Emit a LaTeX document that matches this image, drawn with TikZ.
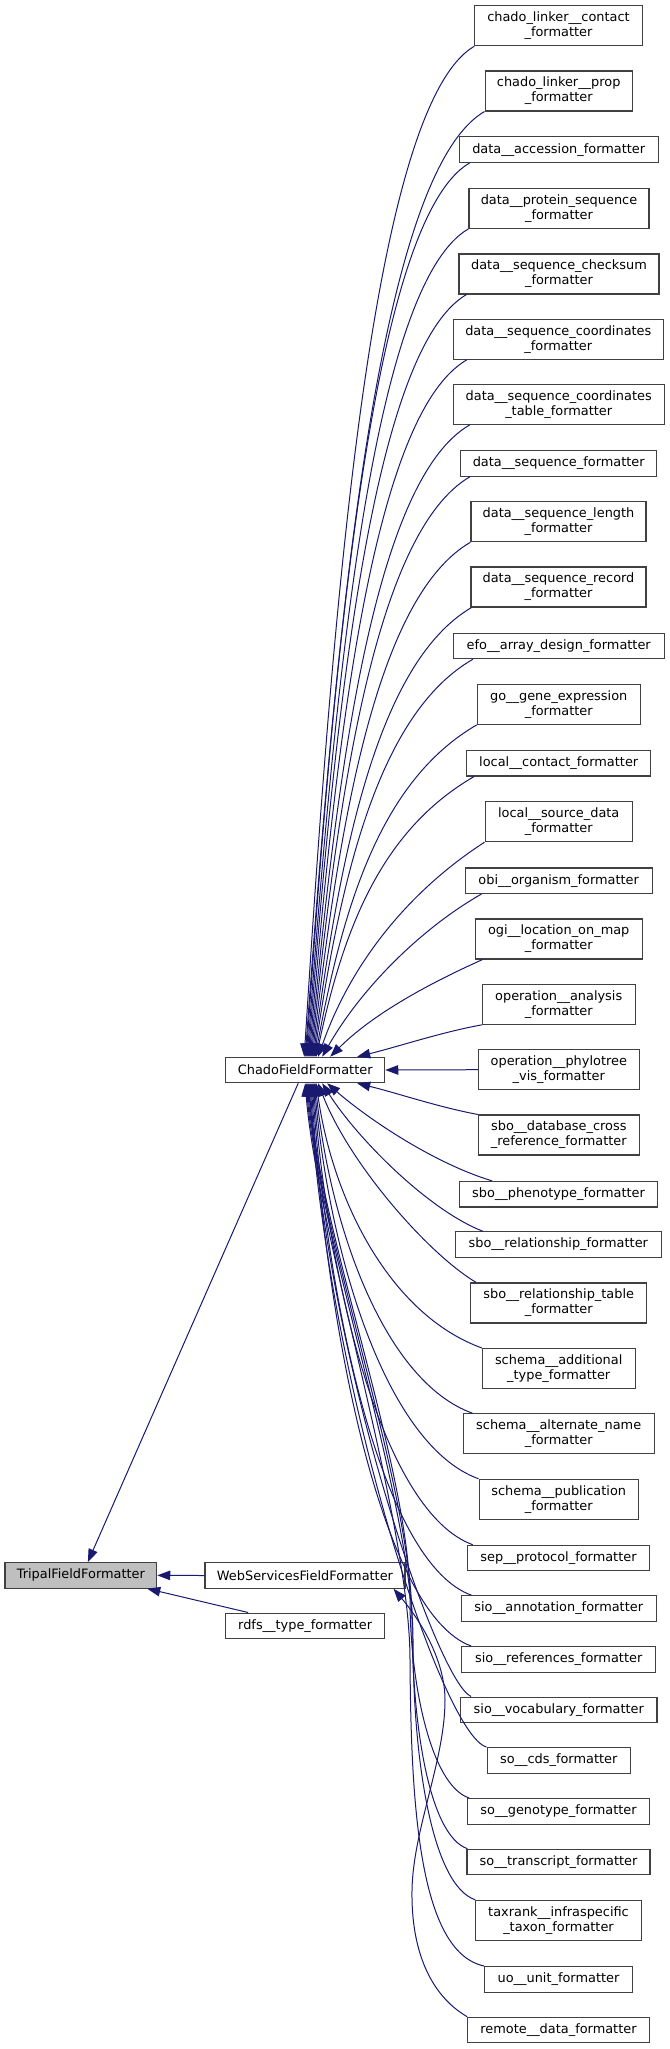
\documentclass[tikz,border=0pt]{standalone}
\usepackage{fontspec}
\setmainfont{DejaVu Sans}
\usetikzlibrary{arrows.meta}
\definecolor{edgecol}{HTML}{191970}
\definecolor{boxborder}{HTML}{404040}
\definecolor{basefill}{HTML}{BFBFBF}
\tikzset{
 box/.style={draw=boxborder, line width=1.1pt, fill=white, inner sep=0pt, align=center,
   font=\fontsize{12.9}{15}\selectfont, minimum height=25.5},
 tall/.style={box, minimum height=40},
 edge/.style={draw=edgecol, line width=1pt, -{Triangle[length=13pt,width=9.5pt]}},
}
\begin{document}
\begin{tikzpicture}[x=1pt,y=-1pt]
\fill[white] (0,0) rectangle (669,2049);
\useasboundingbox (0,0) rectangle (669,2049);

\node[tall, minimum width=167.3] (n1) at (558.5,25.7) {chado\_linker\_\_contact\\\_formatter};
\node[tall, minimum width=147.3] (n2) at (558.7,91) {chado\_linker\_\_prop\\\_formatter};
\node[box, minimum width=199.3] (n3) at (558.7,149.7) {data\_\_accession\_formatter};
\node[tall, minimum width=180] (n4) at (559,208.3) {data\_\_protein\_sequence\\\_formatter};
\node[tall, minimum width=200] (n5) at (559,274) {data\_\_sequence\_checksum\\\_formatter};
\node[tall, minimum width=210] (n6) at (558.3,339.3) {data\_\_sequence\_coordinates\\\_formatter};
\node[tall, minimum width=210.7] (n7) at (558.7,404.3) {data\_\_sequence\_coordinates\\\_table\_formatter};
\node[box, minimum width=196] (n8) at (558.7,463.3) {data\_\_sequence\_formatter};
\node[tall, minimum width=175] (n9) at (558.5,521.7) {data\_\_sequence\_length\\\_formatter};
\node[tall, minimum width=175] (n10) at (558.5,587) {data\_\_sequence\_record\\\_formatter};
\node[box, minimum width=210.7] (n11) at (558.7,646) {efo\_\_array\_design\_formatter};
\node[tall, minimum width=162.7] (n12) at (558.7,704.3) {go\_\_gene\_expression\\\_formatter};
\node[box, minimum width=184] (n13) at (558.7,763.2) {local\_\_contact\_formatter};
\node[tall, minimum width=147.3] (n14) at (558.7,821.7) {local\_\_source\_data\\\_formatter};
\node[box, minimum width=187.3] (n15) at (558.7,880.7) {obi\_\_organism\_formatter};
\node[tall, minimum width=167.3] (n16) at (558.7,939) {ogi\_\_location\_on\_map\\\_formatter};
\node[tall, minimum width=152.7] (n17) at (558.7,1004.3) {operation\_\_analysis\\\_formatter};
\node[tall, minimum width=161] (n18) at (558.8,1069.7) {operation\_\_phylotree\\\_vis\_formatter};
\node[tall, minimum width=161] (n19) at (558.8,1135) {sbo\_\_database\_cross\\\_reference\_formatter};
\node[box, minimum width=197.6] (n20) at (558.5,1194.2) {sbo\_\_phenotype\_formatter};
\node[box, minimum width=205.5] (n21) at (558.3,1244.6) {sbo\_\_relationship\_formatter};
\node[tall, minimum width=176] (n22) at (558.7,1303) {sbo\_\_relationship\_table\\\_formatter};
\node[tall, minimum width=152.7] (n23) at (558.7,1368.5) {schema\_\_additional\\\_type\_formatter};
\node[tall, minimum width=191.3] (n24) at (558.7,1433.8) {schema\_\_alternate\_name\\\_formatter};
\node[tall, minimum width=159.3] (n25) at (558.7,1499.3) {schema\_\_publication\\\_formatter};
\node[box, minimum width=182.4] (n26) at (558.5,1558) {sep\_\_protocol\_formatter};
\node[box, minimum width=195.3] (n27) at (558.7,1608.5) {sio\_\_annotation\_formatter};
\node[box, minimum width=194] (n28) at (558.7,1659.3) {sio\_\_references\_formatter};
\node[box, minimum width=196.3] (n29) at (558.8,1709.8) {sio\_\_vocabulary\_formatter};
\node[box, minimum width=143.3] (n30) at (558.7,1760.3) {so\_\_cds\_formatter};
\node[box, minimum width=181.6] (n31) at (558.5,1811.3) {so\_\_genotype\_formatter};
\node[box, minimum width=183] (n32) at (558.5,1862) {so\_\_transcript\_formatter};
\node[tall, minimum width=165.6] (n33) at (558.5,1920.3) {taxrank\_\_infraspecific\\\_taxon\_formatter};
\node[box, minimum width=147.6] (n34) at (558.5,1979.3) {uo\_\_unit\_formatter};
\node[box, minimum width=181.6] (n35) at (558.5,2030) {remote\_\_data\_formatter};

\node[box, minimum width=159] (chado) at (305.2,1070) {ChadoFieldFormatter};
\node[box, minimum width=151.7, fill=basefill] (tripal) at (80.85,1575.35) {TripalFieldFormatter};
\node[box, minimum width=200] (web) at (305,1575.5) {WebServicesFieldFormatter};
\node[box, minimum width=159] (rdfs) at (305.2,1625.8) {rdfs\_\_type\_formatter};

% upper children -> ChadoFieldFormatter
\draw[edge] (n1.south west) .. controls (372,106) and (333,602) .. ([xshift=-1]chado.north);
\draw[edge] (n2.south west) .. controls (377,174) and (336,631) .. (chado.north);
\draw[edge] ([xshift=11]n3.south west) .. controls (372,220) and (334,655) .. ([xshift=1]chado.north);
\draw[edge] (n4.south west) .. controls (372,285) and (335,684) .. ([xshift=2]chado.north);
\draw[edge] ([xshift=8]n5.south west) .. controls (372,350) and (335,714) .. ([xshift=3]chado.north);
\draw[edge] ([xshift=14]n6.south west) .. controls (372,415) and (336,743) .. ([xshift=4]chado.north);
\draw[edge] ([xshift=17]n7.south west) .. controls (374,480) and (337,772) .. ([xshift=5]chado.north);
\draw[edge] ([xshift=10]n8.south west) .. controls (375,532) and (338,796) .. ([xshift=6]chado.north);
\draw[edge] (n9.south west) .. controls (376,597) and (339,825) .. ([xshift=7]chado.north);
\draw[edge] ([xshift=1]n10.south west) .. controls (377,663) and (340,855) .. ([xshift=8]chado.north);
\draw[edge] ([xshift=20]n11.south west) .. controls (378,714) and (341,878) .. ([xshift=9]chado.north);
\draw[edge] (n12.south west) .. controls (380,781) and (343,907) .. ([xshift=10]chado.north);
\draw[edge] ([xshift=8]n13.south west) .. controls (380,831) and (343,931) .. ([xshift=11]chado.north);
\draw[edge] (n14.south west) .. controls (415,887) and (353,957) .. ([xshift=13]chado.north);
\draw[edge] ([xshift=17]n15.south west) .. controls (422,928) and (362,987) .. ([xshift=17]chado.north);
\draw[edge] ([xshift=8]n16.south west) .. controls (428,984) and (373,1014) .. ([xshift=25]chado.north);
\draw[edge] (n17.south west) .. controls (442,1032) and (397,1047) .. ([xshift=52]chado.north);
\draw[edge] (n18.west) -- (chado.east);
% lower children -> ChadoFieldFormatter
\draw[edge] (n19.north west) .. controls (438,1107) and (397,1093) .. ([xshift=52]chado.south);
\draw[edge] ([xshift=33]n20.north west) .. controls (433,1163) and (367,1118) .. ([xshift=22]chado.south);
\draw[edge] ([xshift=28]n21.north west) .. controls (428,1210) and (357,1138) .. ([xshift=17]chado.south);
\draw[edge] ([xshift=6]n22.north west) .. controls (427,1253) and (349,1163) .. ([xshift=13]chado.south);
\draw[edge] (n23.north west) .. controls (391,1315) and (333,1202) .. ([xshift=11]chado.south);
\draw[edge] ([xshift=10]n24.north west) .. controls (386,1382) and (331,1232) .. ([xshift=10]chado.south);
\draw[edge] (n25.north west) .. controls (388,1446) and (330,1261) .. ([xshift=9]chado.south);
\draw[edge] ([xshift=6]n26.north west) .. controls (385,1513) and (329,1291) .. ([xshift=8]chado.south);
\draw[edge] ([xshift=11]n27.north west) .. controls (384,1564) and (328,1314) .. ([xshift=7]chado.south);
\draw[edge] ([xshift=10]n28.north west) .. controls (383,1614) and (327,1337) .. ([xshift=6]chado.south);
\draw[edge] ([xshift=11]n29.north west) .. controls (437,1682) and (326,1359) .. ([xshift=5]chado.south);
\draw[edge] (n30.north west) .. controls (442,1735) and (327,1385) .. ([xshift=4]chado.south);
\draw[edge] ([xshift=2]n31.north west) .. controls (430,1785) and (410,1680) .. (410,1600)
  .. controls (410,1470) and (320,1233) .. ([xshift=3]chado.south);
\draw[edge] ([xshift=1]n32.north west) .. controls (428,1835) and (412,1720) .. (412,1620)
  .. controls (412,1490) and (319,1233) .. ([xshift=2]chado.south);
\draw[edge] (n33.north west) .. controls (432,1885) and (413,1760) .. (413,1640)
  .. controls (413,1505) and (318,1233) .. ([xshift=1]chado.south);
\draw[edge] (n34.north west) .. controls (418,1952) and (411,1800) .. (410,1660)
  .. controls (410,1520) and (317,1233) .. (chado.south);
% remote -> WebServices
\draw[edge] (n35.north west) .. controls (430,1995) and (411,1950) .. (412,1890)
  .. controls (413,1830) and (445,1760) .. (445,1700)
  .. controls (445,1660) and (420,1620) .. ([xshift=-12]web.south east);
% to TripalFieldFormatter
\draw[edge] ([xshift=-7]chado.south) -- ([xshift=7]tripal.north);
\draw[edge] (web.west) -- (tripal.east);
\draw[edge] ([xshift=23]rdfs.north west) -- ([xshift=-10]tripal.south east);
\end{tikzpicture}
\end{document}
